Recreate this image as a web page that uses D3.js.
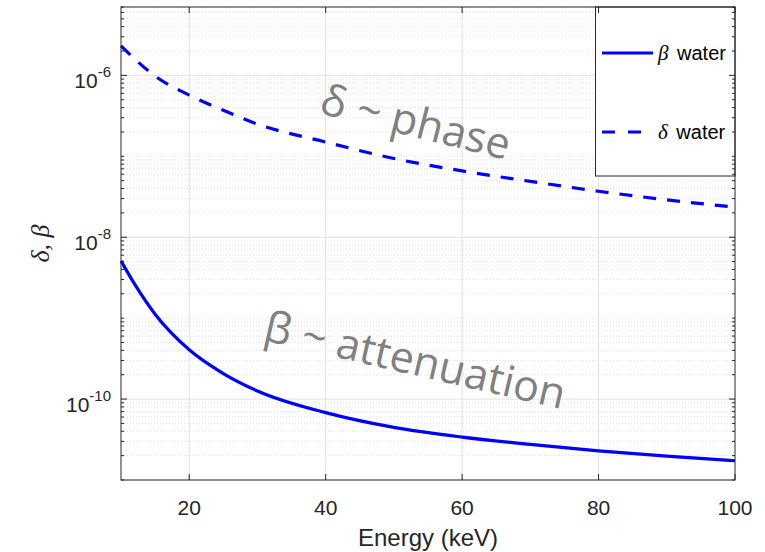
<!DOCTYPE html>
<html>
<head>
<meta charset="utf-8">
<script src="https://cdn.jsdelivr.net/npm/d3@7"></script>
<style>
  body { margin: 0; background: #fff; }
  .tick-label { font-family: "Liberation Sans", Arial, sans-serif; fill: #262626; }
  .note { font-family: "Open Sans", sans-serif; fill: #808080; font-size: 43px; }
</style>
</head>
<body>
<svg id="chart" width="765" height="552"></svg>
<script>
// values
const energy = [10, 12, 15, 20, 25, 30, 40, 50, 60, 70, 80, 90, 100];
const betaWater = [5.1e-9, 2.63e-9, 1.12e-9, 4.07e-10, 2.07e-10, 1.26e-10, 6.8e-11, 4.47e-11, 3.39e-11, 2.75e-11, 2.29e-11, 1.97e-11, 1.73e-11];
const deltaWater = [2.32e-6, 1.6e-6, 9.8e-7, 5.7e-7, 3.7e-7, 2.5e-7, 1.5e-7, 9.4e-8, 6.6e-8, 4.9e-8, 3.7e-8, 2.9e-8, 2.35e-8];
const xTicks = [20, 40, 60, 80, 100];
const yTickExps = [-6, -8, -10];

var m = { left: 121, right: 735, top: 7, bottom: 480 };
var svg = d3.select("#chart");

var x = d3.scaleLinear().domain([10, 100]).range([m.left, m.right]);
var y = d3.scaleLog().domain([1e-11, 7e-6]).range([m.bottom, m.top]);

// minor values: 1..9 x 10^k that are not labelled
var minor = [];
for (var k = -11; k <= -6; k++) {
  for (var j = 1; j <= 9; j++) {
    var v = j * Math.pow(10, k);
    if (v < 1e-11 || v > 7e-6) continue;
    if (j === 1 && yTickExps.indexOf(k) >= 0) continue;
    minor.push(v);
  }
}

/* grid */
var grid = svg.append("g");
grid.selectAll("line.minor")
  .data(minor)
  .enter().append("line")
  .attr("x1", m.left).attr("x2", m.right)
  .attr("y1", d => y(d)).attr("y2", d => y(d))
  .attr("stroke", "#dedede").attr("stroke-width", 1)
  .attr("stroke-dasharray", "1,2");
grid.selectAll("line.ymaj")
  .data(yTickExps)
  .enter().append("line")
  .attr("x1", m.left).attr("x2", m.right)
  .attr("y1", d => y(Math.pow(10, d))).attr("y2", d => y(Math.pow(10, d)))
  .attr("stroke", "#e0e0e0").attr("stroke-width", 1);
grid.selectAll("line.xmaj")
  .data(xTicks.slice(0, -1))
  .enter().append("line")
  .attr("x1", d => x(d)).attr("x2", d => x(d))
  .attr("y1", m.top).attr("y2", m.bottom)
  .attr("stroke", "#e0e0e0").attr("stroke-width", 1);

/* curves */
var line = d3.line()
  .x((d, i) => x(energy[i]))
  .y(d => y(d))
  .curve(d3.curveMonotoneX);

svg.append("path")
  .attr("d", line(betaWater))
  .attr("fill", "none").attr("stroke", "#0000ff").attr("stroke-width", 3.2);
svg.append("path")
  .attr("d", line(deltaWater))
  .attr("fill", "none").attr("stroke", "#0000ff").attr("stroke-width", 3.2)
  .attr("stroke-dasharray", "13,11");

/* annotations */
svg.append("text").attr("class", "note")
  .attr("transform", "translate(318,113) rotate(14)")
  .text("δ ~ phase");
svg.append("text").attr("class", "note")
  .attr("transform", "translate(262,340) rotate(13)")
  .text("β ~ attenuation");

/* legend */
var lg = svg.append("g");
lg.append("rect")
  .attr("x", 595.5).attr("y", m.top).attr("width", m.right - 595.5).attr("height", 169)
  .attr("fill", "#fff").attr("stroke", "#262626").attr("stroke-width", 1);
var legendItems = [
  { sym: "β", label: " water", y: 53, dash: null },
  { sym: "δ", label: " water", y: 132, dash: "13,13" }
];
legendItems.forEach(function(it) {
  lg.append("line")
    .attr("x1", 602).attr("x2", it.dash ? 643 : 653)
    .attr("y1", it.y).attr("y2", it.y)
    .attr("stroke", "#0000ff").attr("stroke-width", 3.2)
    .attr("stroke-dasharray", it.dash);
  var t = lg.append("text").attr("x", 658).attr("y", it.y + 7)
    .attr("font-size", 20).attr("fill", "#000")
    .attr("font-family", "Liberation Sans, Arial, sans-serif");
  t.append("tspan").attr("font-family", "Liberation Serif, serif").attr("font-style", "italic")
    .attr("font-size", 21).text(it.sym);
  t.append("tspan").attr("dx", 3).text(it.label);
});

/* axes box */
var ax = svg.append("g").attr("stroke", "#262626").attr("stroke-width", 1);
ax.append("rect")
  .attr("x", m.left).attr("y", m.top)
  .attr("width", m.right - m.left).attr("height", m.bottom - m.top)
  .attr("fill", "none");

// x ticks (bottom and top, inward)
xTicks.forEach(function(d) {
  ax.append("line").attr("x1", x(d)).attr("x2", x(d)).attr("y1", m.bottom).attr("y2", m.bottom - 6);
  ax.append("line").attr("x1", x(d)).attr("x2", x(d)).attr("y1", m.top).attr("y2", m.top + 6);
});
// y major and minor ticks (left and right, inward)
yTickExps.forEach(function(k) {
  var yy = y(Math.pow(10, k));
  ax.append("line").attr("x1", m.left).attr("x2", m.left + 6).attr("y1", yy).attr("y2", yy);
  ax.append("line").attr("x1", m.right).attr("x2", m.right - 6).attr("y1", yy).attr("y2", yy);
});
minor.forEach(function(v) {
  var yy = y(v);
  ax.append("line").attr("x1", m.left).attr("x2", m.left + 3).attr("y1", yy).attr("y2", yy);
  ax.append("line").attr("x1", m.right).attr("x2", m.right - 3).attr("y1", yy).attr("y2", yy);
});

// x tick labels
svg.selectAll("text.xl")
  .data(xTicks)
  .enter().append("text")
  .attr("class", "tick-label")
  .attr("x", d => x(d)).attr("y", 515)
  .attr("text-anchor", "middle").attr("font-size", 21)
  .text(d => d);

// y tick labels with superscript exponent
yTickExps.forEach(function(k) {
  var t = svg.append("text").attr("class", "tick-label")
    .attr("x", 111).attr("y", y(Math.pow(10, k)) + 13)
    .attr("text-anchor", "end").attr("font-size", 21);
  t.append("tspan").text("10");
  t.append("tspan").attr("dy", -11).attr("font-size", 15).text(String(k));
});

// axis labels
svg.append("text").attr("class", "tick-label")
  .attr("x", (m.left + m.right) / 2).attr("y", 546)
  .attr("text-anchor", "middle").attr("font-size", 24)
  .text("Energy (keV)");
svg.append("text")
  .attr("transform", "translate(49," + (m.top + m.bottom) / 2 + ") rotate(-90)")
  .attr("text-anchor", "middle").attr("font-size", 26)
  .attr("font-family", "Liberation Serif, serif").attr("font-style", "italic")
  .attr("fill", "#262626")
  .text("δ, β");
</script>
</body>
</html>
